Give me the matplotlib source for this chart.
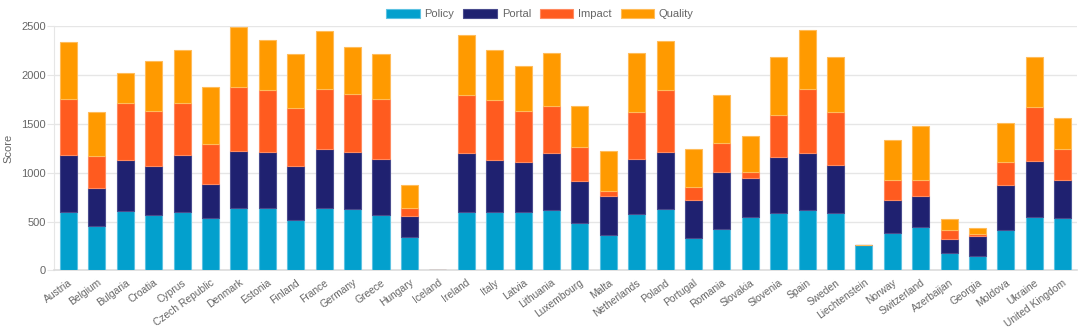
import matplotlib
matplotlib.use("Agg")
import matplotlib.pyplot as plt
import numpy as np

countries = ["Austria", "Belgium", "Bulgaria", "Croatia", "Cyprus", "Czech Republic",
             "Denmark", "Estonia", "Finland", "France", "Germany", "Greece", "Hungary",
             "Iceland", "Ireland", "Italy", "Latvia", "Lithuania", "Luxembourg", "Malta",
             "Netherlands", "Poland", "Portugal", "Romania", "Slovakia", "Slovenia",
             "Spain", "Sweden", "Liechtenstein", "Norway", "Switzerland", "Azerbaijan",
             "Georgia", "Moldova", "Ukraine", "United Kingdom"]

policy = [593, 460, 610, 569, 603, 538, 637, 644, 514, 644, 630, 569, 344,
          0, 603, 593, 593, 620, 490, 361, 579, 630, 334, 429, 545, 586,
          620, 589, 259, 385, 446, 174, 150, 416, 548, 538]
portal = [585, 385, 524, 504, 579, 351, 589, 569, 552, 603, 579, 575, 218,
          0, 596, 538, 517, 579, 426, 405, 562, 583, 388, 576, 405, 572,
          582, 494, 0, 334, 320, 150, 204, 463, 573, 392]
impact = [576, 330, 579, 562, 531, 409, 647, 630, 596, 613, 600, 610, 78,
          0, 599, 616, 518, 487, 351, 51, 484, 630, 133, 296, 58, 429,
          651, 542, 0, 204, 160, 85, 17, 235, 548, 310]
quality = [579, 446, 307, 504, 538, 575, 617, 517, 552, 592, 473, 463, 239,
           0, 607, 511, 460, 538, 416, 406, 596, 500, 392, 494, 368, 596,
           603, 558, 0, 409, 552, 119, 65, 398, 511, 323]

series = [("Policy", policy, "#03a0cd"),
          ("Portal", portal, "#1f2170"),
          ("Impact", impact, "#ff5b1f"),
          ("Quality", quality, "#ff9a00")]
edges = {"Policy": "#5cc2e2", "Portal": "#4a4c8e", "Impact": "#ff8a60", "Quality": "#ffbc5a"}

plt.rcParams["font.family"] = ["Liberation Sans", "DejaVu Sans"]
text_color = "#666666"
grid_color = "#e6e6e6"

fig = plt.figure(figsize=(10.8, 3.27), dpi=100)
ax = fig.add_axes([0.0503, 0.1728, 0.9469, 0.7477])

x = np.arange(len(countries))
bottom = np.zeros(len(countries))
for name, vals, color in series:
    vals = np.array(vals, dtype=float)
    ax.bar(x, vals, width=0.6, bottom=bottom, color=color, label=name,
           edgecolor=edges[name], linewidth=0.8, zorder=3)
    bottom += vals

ax.set_xlim(-0.5, len(countries) - 0.5)
ax.set_ylim(0, 2500)
ax.set_yticks([0, 500, 1000, 1500, 2000, 2500])
ax.yaxis.grid(True, color=grid_color, linewidth=1, zorder=0)
ax.set_axisbelow(True)

for side in ("top", "right"):
    ax.spines[side].set_visible(False)
ax.spines["left"].set_color(grid_color)
ax.spines["bottom"].set_color("#dcdcdc")
ax.spines["bottom"].set_linewidth(1.2)

ax.tick_params(axis="y", colors=text_color, labelsize=8, length=5,
               color=grid_color, pad=1)
ax.tick_params(axis="x", colors=text_color, labelsize=7.4, length=0, pad=5)
ax.set_xticks(x)
ax.set_xticklabels(countries, rotation=36, ha="right", rotation_mode="anchor")
ax.set_ylabel("Score", color=text_color, fontsize=8, labelpad=6)

leg = fig.legend(loc="upper center", bbox_to_anchor=(0.5, 1.0), ncol=4,
                 frameon=False, fontsize=8, handlelength=3.0, handleheight=0.9,
                 handletextpad=0.45, columnspacing=0.8, borderaxespad=0.4)
for t in leg.get_texts():
    t.set_color(text_color)

fig.savefig("out.png", dpi=100)
